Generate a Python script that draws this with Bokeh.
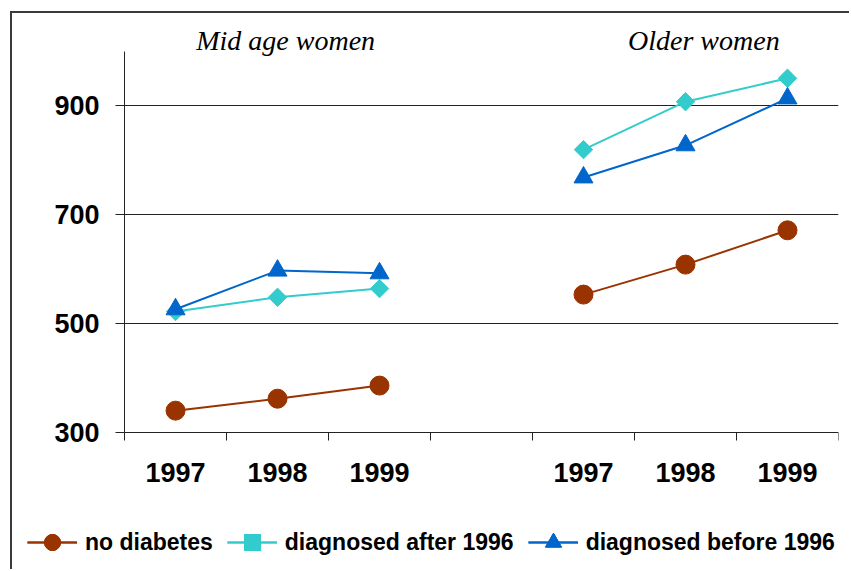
import numpy as np
from bokeh.plotting import figure
from bokeh.models import FixedTicker, Range1d, Legend, LegendItem
from bokeh.core.properties import value
from bokeh.embed import file_html
from bokeh.resources import INLINE

# ---- data ----
groups = ["Mid age women", "Older women"]
years = ["1997", "1998", "1999"]
mid_x = [0.5, 1.5, 2.5]
old_x = [4.5, 5.5, 6.5]

mid_no_diabetes = [340, 362, 386]
mid_after_1996 = [522, 548, 564]
mid_before_1996 = [526, 597, 592]

old_no_diabetes = [553, 608, 671]
old_after_1996 = [819, 907, 950]
old_before_1996 = [768, 827, 913]

y_ticks = [300, 500, 700, 900]
grid_values = [500, 700, 900]
y_axis_bounds = (300, 1000)
x_axis_bounds = (0, 7)

# name, mid values, older values, colour, marker, size, angle
series = [
    ("no diabetes", mid_no_diabetes, old_no_diabetes, "#993300", "circle", 19, 0.0),
    ("diagnosed after 1996", mid_after_1996, old_after_1996, "#33CCCC", "square", 13, np.pi / 4),
    ("diagnosed before 1996", mid_before_1996, old_before_1996, "#0066CC", "triangle", 19, 0.0),
]

p = figure(width=839, height=558, output_backend="svg", toolbar_location=None,
           x_range=Range1d(-1.02, 7), y_range=Range1d(54, 1056))
p.styles = {"margin-left": "10px", "margin-top": "11px",
            "border-left": "2px solid #3a3a3a", "border-top": "2px solid #3a3a3a"}
p.min_border_left = 8
p.min_border_right = 13
p.min_border_top = 7
p.min_border_bottom = 5
p.outline_line_color = None
p.background_fill_color = "white"
p.border_fill_color = "white"

# grid
p.xgrid.visible = False
p.ygrid.ticker = FixedTicker(ticks=grid_values)
p.ygrid.cross_bounds = x_axis_bounds
p.ygrid.grid_line_color = "#222222"
p.ygrid.grid_line_width = 1

# x axis
xa = p.xaxis[0]
xa.fixed_location = y_axis_bounds[0]
xa.bounds = x_axis_bounds
xa.ticker = FixedTicker(ticks=mid_x + old_x, minor_ticks=list(range(0, 8)))
xa.major_label_overrides = {x: y for x, y in zip(mid_x + old_x, years + years)}
xa.major_tick_line_color = None
xa.major_tick_out = 0
xa.major_tick_in = 0
xa.minor_tick_out = 8
xa.minor_tick_in = 0
xa.minor_tick_line_color = "#222222"
xa.axis_line_color = "#222222"
xa.major_label_text_font = "Liberation Sans"
xa.major_label_text_font_style = "bold"
xa.major_label_text_font_size = "27px"
xa.major_label_text_color = "black"
xa.major_label_standoff = 23

# y axis
ya = p.yaxis[0]
ya.fixed_location = x_axis_bounds[0]
ya.bounds = y_axis_bounds
ya.ticker = FixedTicker(ticks=y_ticks)
ya.minor_tick_line_color = None
ya.major_tick_out = 9
ya.major_tick_in = 0
ya.major_tick_line_color = "#222222"
ya.axis_line_color = "#222222"
ya.major_label_text_font = "Liberation Sans"
ya.major_label_text_font_style = "bold"
ya.major_label_text_font_size = "27px"
ya.major_label_text_color = "black"
ya.major_label_standoff = 16

items = []
for name, mid_vals, old_vals, color, marker, size, angle in series:
    rs = []
    for xs, vals in ((mid_x, mid_vals), (old_x, old_vals)):
        rs.append(p.line(xs, vals, line_color=color, line_width=2))
        rs.append(p.scatter(xs, vals, marker=marker, size=size, angle=angle,
                            fill_color=color, line_color=color))
    items.append(LegendItem(label=name, renderers=rs))

legend = Legend(items=items, orientation="horizontal", location=(7, 4),
                glyph_width=50, glyph_height=40, label_standoff=8, spacing=14,
                padding=0, margin=0, background_fill_alpha=0, border_line_color=None,
                label_text_font="Liberation Sans", label_text_font_style="bold",
                label_text_font_size="23px", label_text_color="black")
p.add_layout(legend, "center")

# group titles
title_x = [1.58, 5.68]
title_y = [1019, 1019]
p.text(x=title_x, y=title_y, text=groups, text_align="center",
       text_baseline="alphabetic", text_font=value("Liberation Serif"),
       text_font_style="italic", text_font_size="28px", text_color="black")

open("out.html", "w").write(file_html(p, INLINE))
